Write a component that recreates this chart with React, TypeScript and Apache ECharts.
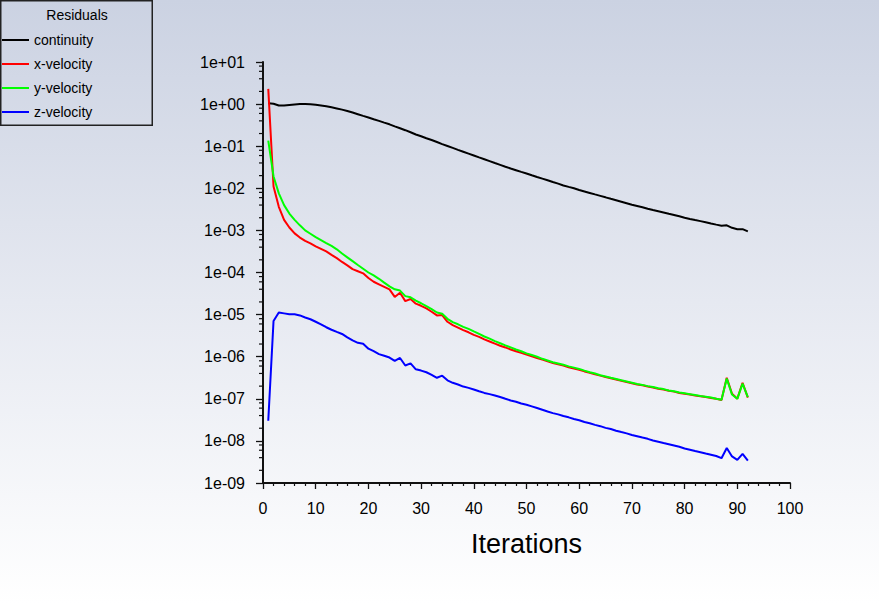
import React, { useEffect, useRef } from "react";
import * as echarts from "echarts";

const seriesNames = ["continuity", "x-velocity", "y-velocity", "z-velocity"];
const seriesColors = ["#000000", "#ff0000", "#00ff00", "#0000ff"];

// residuals per iteration (iteration 1 .. 92)
const continuity = [
  1.05, 1.02, 0.93, 0.93, 0.955, 0.98, 1.0, 1.0, 0.99, 0.965,
  0.93, 0.89, 0.84, 0.79, 0.74, 0.684, 0.63, 0.575, 0.525, 0.48,
  0.437, 0.40, 0.363, 0.331, 0.295, 0.266, 0.24, 0.214, 0.19, 0.172,
  0.155, 0.14, 0.126, 0.112, 0.101, 0.091, 0.082, 0.074, 0.0668, 0.0603,
  0.0543, 0.049, 0.0442, 0.0398, 0.0359, 0.0324, 0.0295, 0.0269, 0.0245, 0.0224,
  0.0204, 0.0186, 0.017, 0.0155, 0.0141, 0.0129, 0.0117, 0.0108, 0.01, 0.00912,
  0.00841, 0.00776, 0.00716, 0.00661, 0.0061, 0.00562, 0.00519, 0.00479, 0.00442, 0.00407,
  0.0038, 0.00355, 0.00327, 0.00305, 0.00285, 0.00266, 0.00248, 0.00232, 0.00216, 0.002,
  0.00187, 0.00176, 0.00166, 0.00156, 0.00146, 0.00137, 0.00129, 0.00132, 0.00115, 0.00107,
  0.00107, 0.00095,
];

const xVelocity = [
  2.3, 0.011, 3.63e-3, 1.78e-3, 1.17e-3, 8.51e-4, 6.76e-4, 5.62e-4, 4.9e-4, 4.17e-4,
  3.63e-4, 3.16e-4, 2.63e-4, 2.19e-4, 1.78e-4, 1.48e-4, 1.2e-4, 1.07e-4, 9.55e-5, 7.41e-5,
  6.03e-5, 5.25e-5, 4.57e-5, 3.98e-5, 2.63e-5, 3.31e-5, 2.09e-5, 2.34e-5, 1.82e-5, 1.62e-5,
  1.41e-5, 1.17e-5, 9.55e-6, 9.77e-6, 6.76e-6, 5.62e-6, 4.9e-6, 4.27e-6, 3.8e-6, 3.31e-6,
  2.95e-6, 2.57e-6, 2.29e-6, 2.04e-6, 1.82e-6, 1.66e-6, 1.48e-6, 1.35e-6, 1.23e-6, 1.12e-6,
  1.02e-6, 9.33e-7, 8.51e-7, 7.76e-7, 7.08e-7, 6.61e-7, 6.17e-7, 5.62e-7, 5.25e-7, 4.9e-7,
  4.47e-7, 4.17e-7, 3.8e-7, 3.55e-7, 3.31e-7, 3.09e-7, 2.88e-7, 2.69e-7, 2.51e-7, 2.34e-7,
  2.19e-7, 2.09e-7, 1.95e-7, 1.86e-7, 1.74e-7, 1.66e-7, 1.55e-7, 1.48e-7, 1.38e-7, 1.32e-7,
  1.26e-7, 1.2e-7, 1.15e-7, 1.1e-7, 1.05e-7, 1.0e-7, 9.33e-8, 3.16e-7, 1.32e-7, 1.0e-7,
  2.4e-7, 1.07e-7,
];

const yVelocity = [
  0.135, 0.0191, 7.59e-3, 3.98e-3, 2.51e-3, 1.78e-3, 1.32e-3, 1.0e-3, 8.32e-4, 6.92e-4,
  5.89e-4, 5.01e-4, 4.27e-4, 3.55e-4, 2.82e-4, 2.29e-4, 1.86e-4, 1.51e-4, 1.23e-4, 1.0e-4,
  8.51e-5, 7.08e-5, 5.75e-5, 4.68e-5, 3.98e-5, 3.72e-5, 2.75e-5, 2.57e-5, 2.14e-5, 1.86e-5,
  1.58e-5, 1.35e-5, 1.12e-5, 1.05e-5, 7.94e-6, 6.61e-6, 5.89e-6, 5.13e-6, 4.57e-6, 3.98e-6,
  3.47e-6, 3.02e-6, 2.69e-6, 2.34e-6, 2.09e-6, 1.86e-6, 1.66e-6, 1.48e-6, 1.35e-6, 1.2e-6,
  1.1e-6, 1.0e-6, 8.91e-7, 8.13e-7, 7.41e-7, 6.92e-7, 6.46e-7, 5.89e-7, 5.5e-7, 5.13e-7,
  4.68e-7, 4.27e-7, 3.98e-7, 3.63e-7, 3.39e-7, 3.16e-7, 2.95e-7, 2.75e-7, 2.57e-7, 2.4e-7,
  2.24e-7, 2.14e-7, 2.0e-7, 1.91e-7, 1.78e-7, 1.7e-7, 1.58e-7, 1.51e-7, 1.41e-7, 1.35e-7,
  1.29e-7, 1.23e-7, 1.17e-7, 1.12e-7, 1.07e-7, 1.0e-7, 9.55e-8, 3.02e-7, 1.26e-7, 1.0e-7,
  2.29e-7, 1.1e-7,
];

const zVelocity = [
  3.0e-8, 7.08e-6, 1.12e-5, 1.07e-5, 1.02e-5, 1.02e-5, 9.55e-6, 8.51e-6, 7.76e-6, 6.76e-6,
  5.89e-6, 5.01e-6, 4.37e-6, 3.89e-6, 3.47e-6, 2.88e-6, 2.45e-6, 2.14e-6, 2.04e-6, 1.55e-6,
  1.35e-6, 1.15e-6, 1.05e-6, 9.55e-7, 7.94e-7, 9.33e-7, 6.17e-7, 6.92e-7, 5.01e-7, 4.68e-7,
  4.27e-7, 3.72e-7, 3.16e-7, 3.55e-7, 2.75e-7, 2.4e-7, 2.19e-7, 1.95e-7, 1.82e-7, 1.66e-7,
  1.51e-7, 1.38e-7, 1.29e-7, 1.2e-7, 1.1e-7, 1.0e-7, 9.12e-8, 8.51e-8, 7.76e-8, 7.24e-8,
  6.61e-8, 6.03e-8, 5.5e-8, 5.01e-8, 4.57e-8, 4.27e-8, 3.89e-8, 3.63e-8, 3.31e-8, 3.09e-8,
  2.82e-8, 2.63e-8, 2.4e-8, 2.24e-8, 2.04e-8, 1.91e-8, 1.74e-8, 1.62e-8, 1.51e-8, 1.38e-8,
  1.29e-8, 1.2e-8, 1.12e-8, 1.02e-8, 9.55e-9, 8.91e-9, 8.32e-9, 7.76e-9, 7.24e-9, 6.61e-9,
  6.17e-9, 5.75e-9, 5.37e-9, 5.01e-9, 4.68e-9, 4.37e-9, 3.89e-9, 6.76e-9, 4.27e-9, 3.55e-9,
  4.9e-9, 3.39e-9,
];

const seriesValues = [continuity, xVelocity, yVelocity, zVelocity];

// axis settings
const xMin = 0;
const xMax = 100;
const xInterval = 10;
const yMin = 1e-9;
const yMax = 10;
const minorTickMultiples = [2, 4, 6, 8];
const yAxisDecades = [-9, -8, -7, -6, -5, -4, -3, -2, -1, 0];

const FONT = "'Liberation Sans', Arial, Helvetica, sans-serif";

function formatExp(v: number): string {
  const e = Math.round(Math.log10(v));
  const sign = e < 0 ? "-" : "+";
  const abs = Math.abs(e);
  return "1e" + sign + (abs < 10 ? "0" + abs : String(abs));
}

export default function App() {
  const ref = useRef<HTMLDivElement>(null);

  useEffect(() => {
    if (!ref.current) return;
    const chart = echarts.init(ref.current, undefined, { renderer: "svg" });

    const minorTickValues: number[][] = [];
    yAxisDecades.forEach((d) => {
      minorTickMultiples.forEach((m) => {
        minorTickValues.push([xMin, m * Math.pow(10, d)]);
      });
    });

    const lineSeries = seriesNames.map((name, i) => ({
      name,
      type: "line",
      data: seriesValues[i].map((v, k) => [k + 1, v]),
      showSymbol: false,
      symbol: "none",
      silent: true,
      color: seriesColors[i],
      lineStyle: { color: seriesColors[i], width: 2 },
      itemStyle: { color: seriesColors[i] },
      z: 2 + i,
    }));

    const option: any = {
      animation: false,
      backgroundColor: "transparent",
      textStyle: { fontFamily: FONT },
      grid: { left: 263, right: 89, top: 62, bottom: 121, containLabel: false },
      legend: {
        data: seriesNames,
        orient: "vertical",
        left: 2,
        top: 32,
        padding: 0,
        itemGap: 8,
        itemWidth: 27,
        itemHeight: 2,
        icon: "rect",
        selectedMode: false,
        textStyle: { fontSize: 14, lineHeight: 16, color: "#000", fontFamily: FONT },
      },
      graphic: [
        {
          type: "rect",
          shape: { x: 0.75, y: 0.75, width: 151.5, height: 124.5 },
          style: { fill: "none", stroke: "#222", lineWidth: 1.5 },
          silent: true,
        },
        {
          type: "text",
          x: 77,
          y: 15,
          style: {
            text: "Residuals",
            fontSize: 14,
            fontFamily: FONT,
            fill: "#000",
            align: "center",
            verticalAlign: "middle",
          },
          silent: true,
        },
      ],
      xAxis: {
        type: "value",
        min: xMin,
        max: xMax,
        interval: xInterval,
        name: "Iterations",
        nameLocation: "middle",
        nameGap: 47,
        nameTextStyle: { fontSize: 27, color: "#000", fontFamily: FONT },
        axisLine: { show: true, onZero: false, lineStyle: { color: "#111", width: 2 } },
        axisTick: { show: true, length: 6, lineStyle: { color: "#111", width: 1.3 } },
        minorTick: { show: true, splitNumber: 5, length: 3, lineStyle: { color: "#111", width: 1.2 } },
        splitLine: { show: false },
        axisLabel: { fontSize: 16, color: "#000", margin: 17, fontFamily: FONT },
      },
      yAxis: {
        type: "log",
        logBase: 10,
        min: yMin,
        max: yMax,
        interval: 1,
        splitNumber: 10,
        axisLine: { show: true, lineStyle: { color: "#111", width: 2 } },
        axisTick: { show: true, length: 7, lineStyle: { color: "#111", width: 1.3 } },
        splitLine: { show: false },
        axisLabel: {
          fontSize: 16,
          color: "#000",
          margin: 18,
          fontFamily: FONT,
          formatter: (v: number) => formatExp(v),
        },
      },
      series: [
        ...lineSeries,
        {
          type: "custom",
          silent: true,
          clip: false,
          z: 10,
          data: minorTickValues,
          renderItem: (_params: any, api: any) => {
            const p = api.coord([api.value(0), api.value(1)]);
            return {
              type: "line",
              shape: { x1: p[0] - 4, y1: p[1], x2: p[0], y2: p[1] },
              style: { stroke: "#111", lineWidth: 1.2 },
            };
          },
        },
      ],
    };

    chart.setOption(option);
    return () => {
      chart.dispose();
    };
  }, []);

  return (
    <div
      ref={ref}
      style={{
        position: "fixed",
        left: 0,
        top: 0,
        width: 879,
        height: 604,
        background: "linear-gradient(to bottom, #cbd2e2 0%, #e6e9f1 50%, #ffffff 100%)",
      }}
    />
  );
}
